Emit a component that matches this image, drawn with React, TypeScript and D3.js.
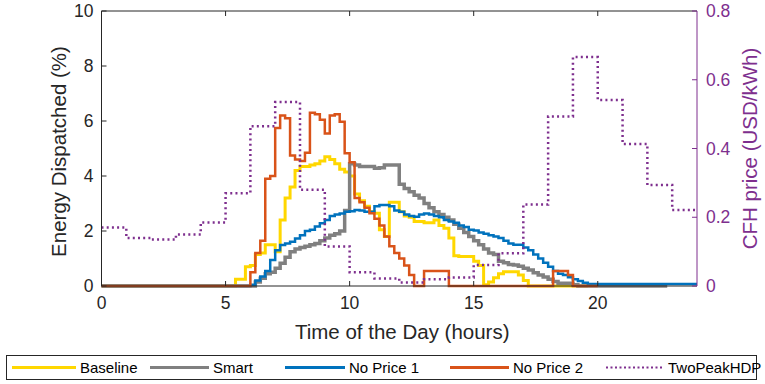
import React from "react";
import * as d3 from "d3";

// 12-minute steps (0.2 h), values in % of energy
const stepHours = 0.2;

const baselineStart = 27;
const baseline = [
  0.25, 0.25, 0.7, 0.75, 1.15, 1.2, 1.5, 1.5, 1.25, 2.4, 3.2, 3.6, 4.2, 4.35,
  4.35, 4.4, 4.45, 4.55, 4.7, 4.6, 4.45, 4.25, 4.15, 4.0, 3.35, 3.1, 2.9, 2.7,
  2.65, 2.05, 1.8, 3.05, 3.05, 2.7, 2.55, 2.5, 2.35, 2.35, 2.3, 2.3, 2.4, 2.2,
  2.1, 1.75, 1.1, 1.07, 1.07, 1.07, 0.9, 0.75, 0.05, 0.15, 0.3, 0.45, 0.52,
  0.52, 0.52, 0.4, 0.2,
];
const baselineEnd = 98;

const smartStart = 31;
const smart = [
  0.15, 0.28, 0.45, 0.5, 0.65, 0.83, 1.05, 1.25, 1.35, 1.4, 1.45, 1.5, 1.55,
  1.65, 1.75, 1.85, 1.9, 2.0, 2.75, 4.45, 4.4, 4.35, 4.35, 4.35, 4.28, 4.3, 4.4,
  4.4, 4.4, 3.7, 3.55, 3.43, 3.3, 3.2, 3.0, 2.85, 2.7, 2.6, 2.5, 2.4, 2.25, 2.1,
  1.95, 1.8, 1.65, 1.5, 1.35, 1.2, 1.15, 0.9, 0.85, 0.78, 0.76, 0.72, 0.65,
  0.58, 0.48, 0.4, 0.33, 0.25, 0.16, 0.1, 0.1, 0.1, 0.05,
];
const smartEnd = 114;

const noPrice1Start = 30;
const noPrice1 = [
  0.05, 0.2, 0.35, 0.55, 0.95, 1.3, 1.49, 1.55, 1.61, 1.73, 1.85, 2.0, 2.05,
  2.16, 2.28, 2.4, 2.55, 2.6, 2.64, 2.7, 2.72, 2.76, 2.75, 2.7, 2.7, 2.9, 2.95,
  2.95, 2.9, 2.75, 2.7, 2.6, 2.55, 2.52, 2.6, 2.64, 2.6, 2.55, 2.5, 2.4, 2.35,
  2.3, 2.2, 2.15, 2.05, 2.02, 1.95, 1.9, 1.85, 1.8, 1.75, 1.65, 1.55, 1.5, 1.5,
  1.4, 1.3, 1.15, 1.0, 0.85, 0.7, 0.55, 0.45, 0.4, 0.32, 0.25, 0.18, 0.12, 0.07,
  0.07, 0.07, 0.07, 0.07, 0.07, 0.07, 0.07, 0.07, 0.07, 0.07, 0.07, 0.07, 0.07,
  0.07, 0.07, 0.07, 0.07, 0.07, 0.07, 0.07, 0.07,
];
const noPrice1End = 120;

const noPrice2Start = 30;
const noPrice2 = [
  0.5, 1.2, 1.65, 3.9, 4.0, 5.75, 6.2, 6.1, 4.75, 4.6, 4.55, 4.85, 6.3, 6.25,
  6.05, 5.55, 6.2, 6.25, 5.97, 4.83, 4.5, 3.2, 3.05, 2.85, 2.65, 2.45, 2.2, 1.8,
  1.45, 1.2, 1.0, 0.75, 0.4, 0, 0, 0.55, 0.55, 0.55, 0.55, 0.55, 0, 0, 0, 0, 0,
  0, 0, 0, 0, 0, 0, 0, 0, 0, 0, 0, 0, 0, 0, 0, 0, 0.55, 0.55, 0.55, 0.4,
];
const noPrice2End = 100;

// hourly CFH price, USD/kWh
const twoPeakHDP = [
  0.17, 0.14, 0.135, 0.15, 0.185, 0.27, 0.465, 0.535, 0.28, 0.115, 0.04, 0.022,
  0.01, 0.02, 0.025, 0.061, 0.095, 0.237, 0.493, 0.666, 0.541, 0.413, 0.294,
  0.221,
];

const xTicks = [0, 5, 10, 15, 20];
const energyTicks = [0, 2, 4, 6, 8, 10];
const priceTicks = [0, 0.2, 0.4, 0.6, 0.8];

const legendNames = ["Baseline", "Smart", "No Price 1", "No Price 2", "TwoPeakHDP"];

const FONT = "'Liberation Sans', Arial, Helvetica, sans-serif";
const AXIS = "#262626";
const PURPLE = "#7E2F8E";

function toSteps(start: number, vals: number[], endK: number) {
  const pts: [number, number][] = [];
  for (let k = 0; k < endK; k++) {
    const v = k >= start && k < start + vals.length ? vals[k - start] : 0;
    pts.push([k * stepHours, v]);
  }
  pts.push([endK * stepHours, pts[pts.length - 1][1]]);
  return pts;
}

export default function App() {
  const left = 101.5;
  const right = 697;
  const top = 11;
  const bottom = 286;

  const x = d3.scaleLinear().domain([0, 24]).range([left, right]);
  const y = d3.scaleLinear().domain([0, 10]).range([bottom, top]);
  const yP = d3.scaleLinear().domain([0, 0.8]).range([bottom, top]);

  const line = d3
    .line<[number, number]>()
    .x((d) => x(d[0]))
    .y((d) => y(d[1]))
    .curve(d3.curveStepAfter);

  const priceLine = d3
    .line<[number, number]>()
    .x((d) => x(d[0]))
    .y((d) => yP(d[1]))
    .curve(d3.curveStepAfter);

  const pricePts: [number, number][] = twoPeakHDP.map((v, i) => [i, v]);
  pricePts.push([24, twoPeakHDP[twoPeakHDP.length - 1]]);

  const series = [
    { pts: toSteps(baselineStart, baseline, baselineEnd), color: "#FFD700", w: 3 },
    { pts: toSteps(smartStart, smart, smartEnd), color: "#808080", w: 3.5 },
    { pts: toSteps(noPrice1Start, noPrice1, noPrice1End), color: "#0072BD", w: 2.5 },
    { pts: toSteps(noPrice2Start, noPrice2, noPrice2End), color: "#D95319", w: 2.5 },
  ];

  // legend layout
  const legendItems = [
    { x1: 12, x2: 76, tx: 80 },
    { x1: 150, x2: 209, tx: 213 },
    { x1: 285, x2: 345, tx: 349 },
    { x1: 450, x2: 509, tx: 513 },
    { x1: 606, x2: 662, tx: 668 },
  ];
  const legendColors = ["#FFD700", "#808080", "#0072BD", "#D95319", PURPLE];

  return (
    <svg
      width={765}
      height={384}
      style={{ position: "absolute", left: 0, top: 0, background: "#fff" }}
      fontFamily={FONT}
    >
      <rect x={0} y={0} width={765} height={384} fill="#fff" />

      {/* series */}
      <g fill="none" strokeLinejoin="miter">
        {series.map((s, i) => (
          <path key={i} d={line(s.pts) || ""} stroke={s.color} strokeWidth={s.w} />
        ))}
        <path
          d={priceLine(pricePts) || ""}
          stroke={PURPLE}
          strokeWidth={2.5}
          strokeDasharray="2,3.2"
        />
      </g>

      {/* axes box */}
      <line x1={left} x2={right} y1={top} y2={top} stroke={AXIS} strokeWidth={1} />
      <line x1={left} x2={right} y1={bottom} y2={bottom} stroke={AXIS} strokeWidth={1} />
      <line x1={left} x2={left} y1={top} y2={bottom} stroke={AXIS} strokeWidth={1} />
      <line x1={right} x2={right} y1={top} y2={bottom} stroke={PURPLE} strokeWidth={1} />

      {/* x ticks */}
      {xTicks.map((t) => (
        <g key={"x" + t}>
          <line x1={x(t)} x2={x(t)} y1={bottom} y2={bottom - 5} stroke={AXIS} />
          <line x1={x(t)} x2={x(t)} y1={top} y2={top + 5} stroke={AXIS} />
          <text
            x={x(t)}
            y={bottom + 23}
            textAnchor="middle"
            fontSize={17.5}
            fill={AXIS}
          >
            {t}
          </text>
        </g>
      ))}

      {/* left ticks */}
      {energyTicks.map((t) => (
        <g key={"y" + t}>
          <line x1={left} x2={left + 5} y1={y(t)} y2={y(t)} stroke={AXIS} />
          <text
            x={left - 8}
            y={y(t)}
            dy="0.35em"
            textAnchor="end"
            fontSize={17.5}
            fill={AXIS}
          >
            {t}
          </text>
        </g>
      ))}

      {/* right ticks */}
      {priceTicks.map((t) => (
        <g key={"p" + t}>
          <line x1={right} x2={right - 5} y1={yP(t)} y2={yP(t)} stroke={PURPLE} />
          <text
            x={right + 9}
            y={yP(t)}
            dy="0.35em"
            textAnchor="start"
            fontSize={17.5}
            fill={PURPLE}
          >
            {t === 0 ? "0" : t.toFixed(1)}
          </text>
        </g>
      ))}

      {/* axis titles */}
      <text
        x={(left + right) / 2 + 3}
        y={339}
        textAnchor="middle"
        fontSize={20.5}
        fill={AXIS}
      >
        Time of the Day (hours)
      </text>
      <text
        transform={`translate(66, ${(top + bottom) / 2 + 3}) rotate(-90)`}
        textAnchor="middle"
        fontSize={20.5}
        fill={AXIS}
      >
        Energy Dispatched (%)
      </text>
      <text
        transform={`translate(757, ${(top + bottom) / 2}) rotate(-90)`}
        textAnchor="middle"
        fontSize={20.5}
        fill={PURPLE}
      >
        CFH price (USD/kWh)
      </text>

      {/* legend */}
      <rect x={6.5} y={355.5} width={750} height={24} fill="#fff" stroke={AXIS} strokeWidth={1} />
      {legendItems.map((it, i) => (
        <g key={"l" + i}>
          <line
            x1={it.x1}
            x2={it.x2}
            y1={367.5}
            y2={367.5}
            stroke={legendColors[i]}
            strokeWidth={i === 4 ? 2 : 3}
            strokeDasharray={i === 4 ? "2,2.5" : undefined}
          />
          <text x={it.tx} y={367.5} dy="0.35em" fontSize={15} fill="#000">
            {legendNames[i]}
          </text>
        </g>
      ))}
    </svg>
  );
}
